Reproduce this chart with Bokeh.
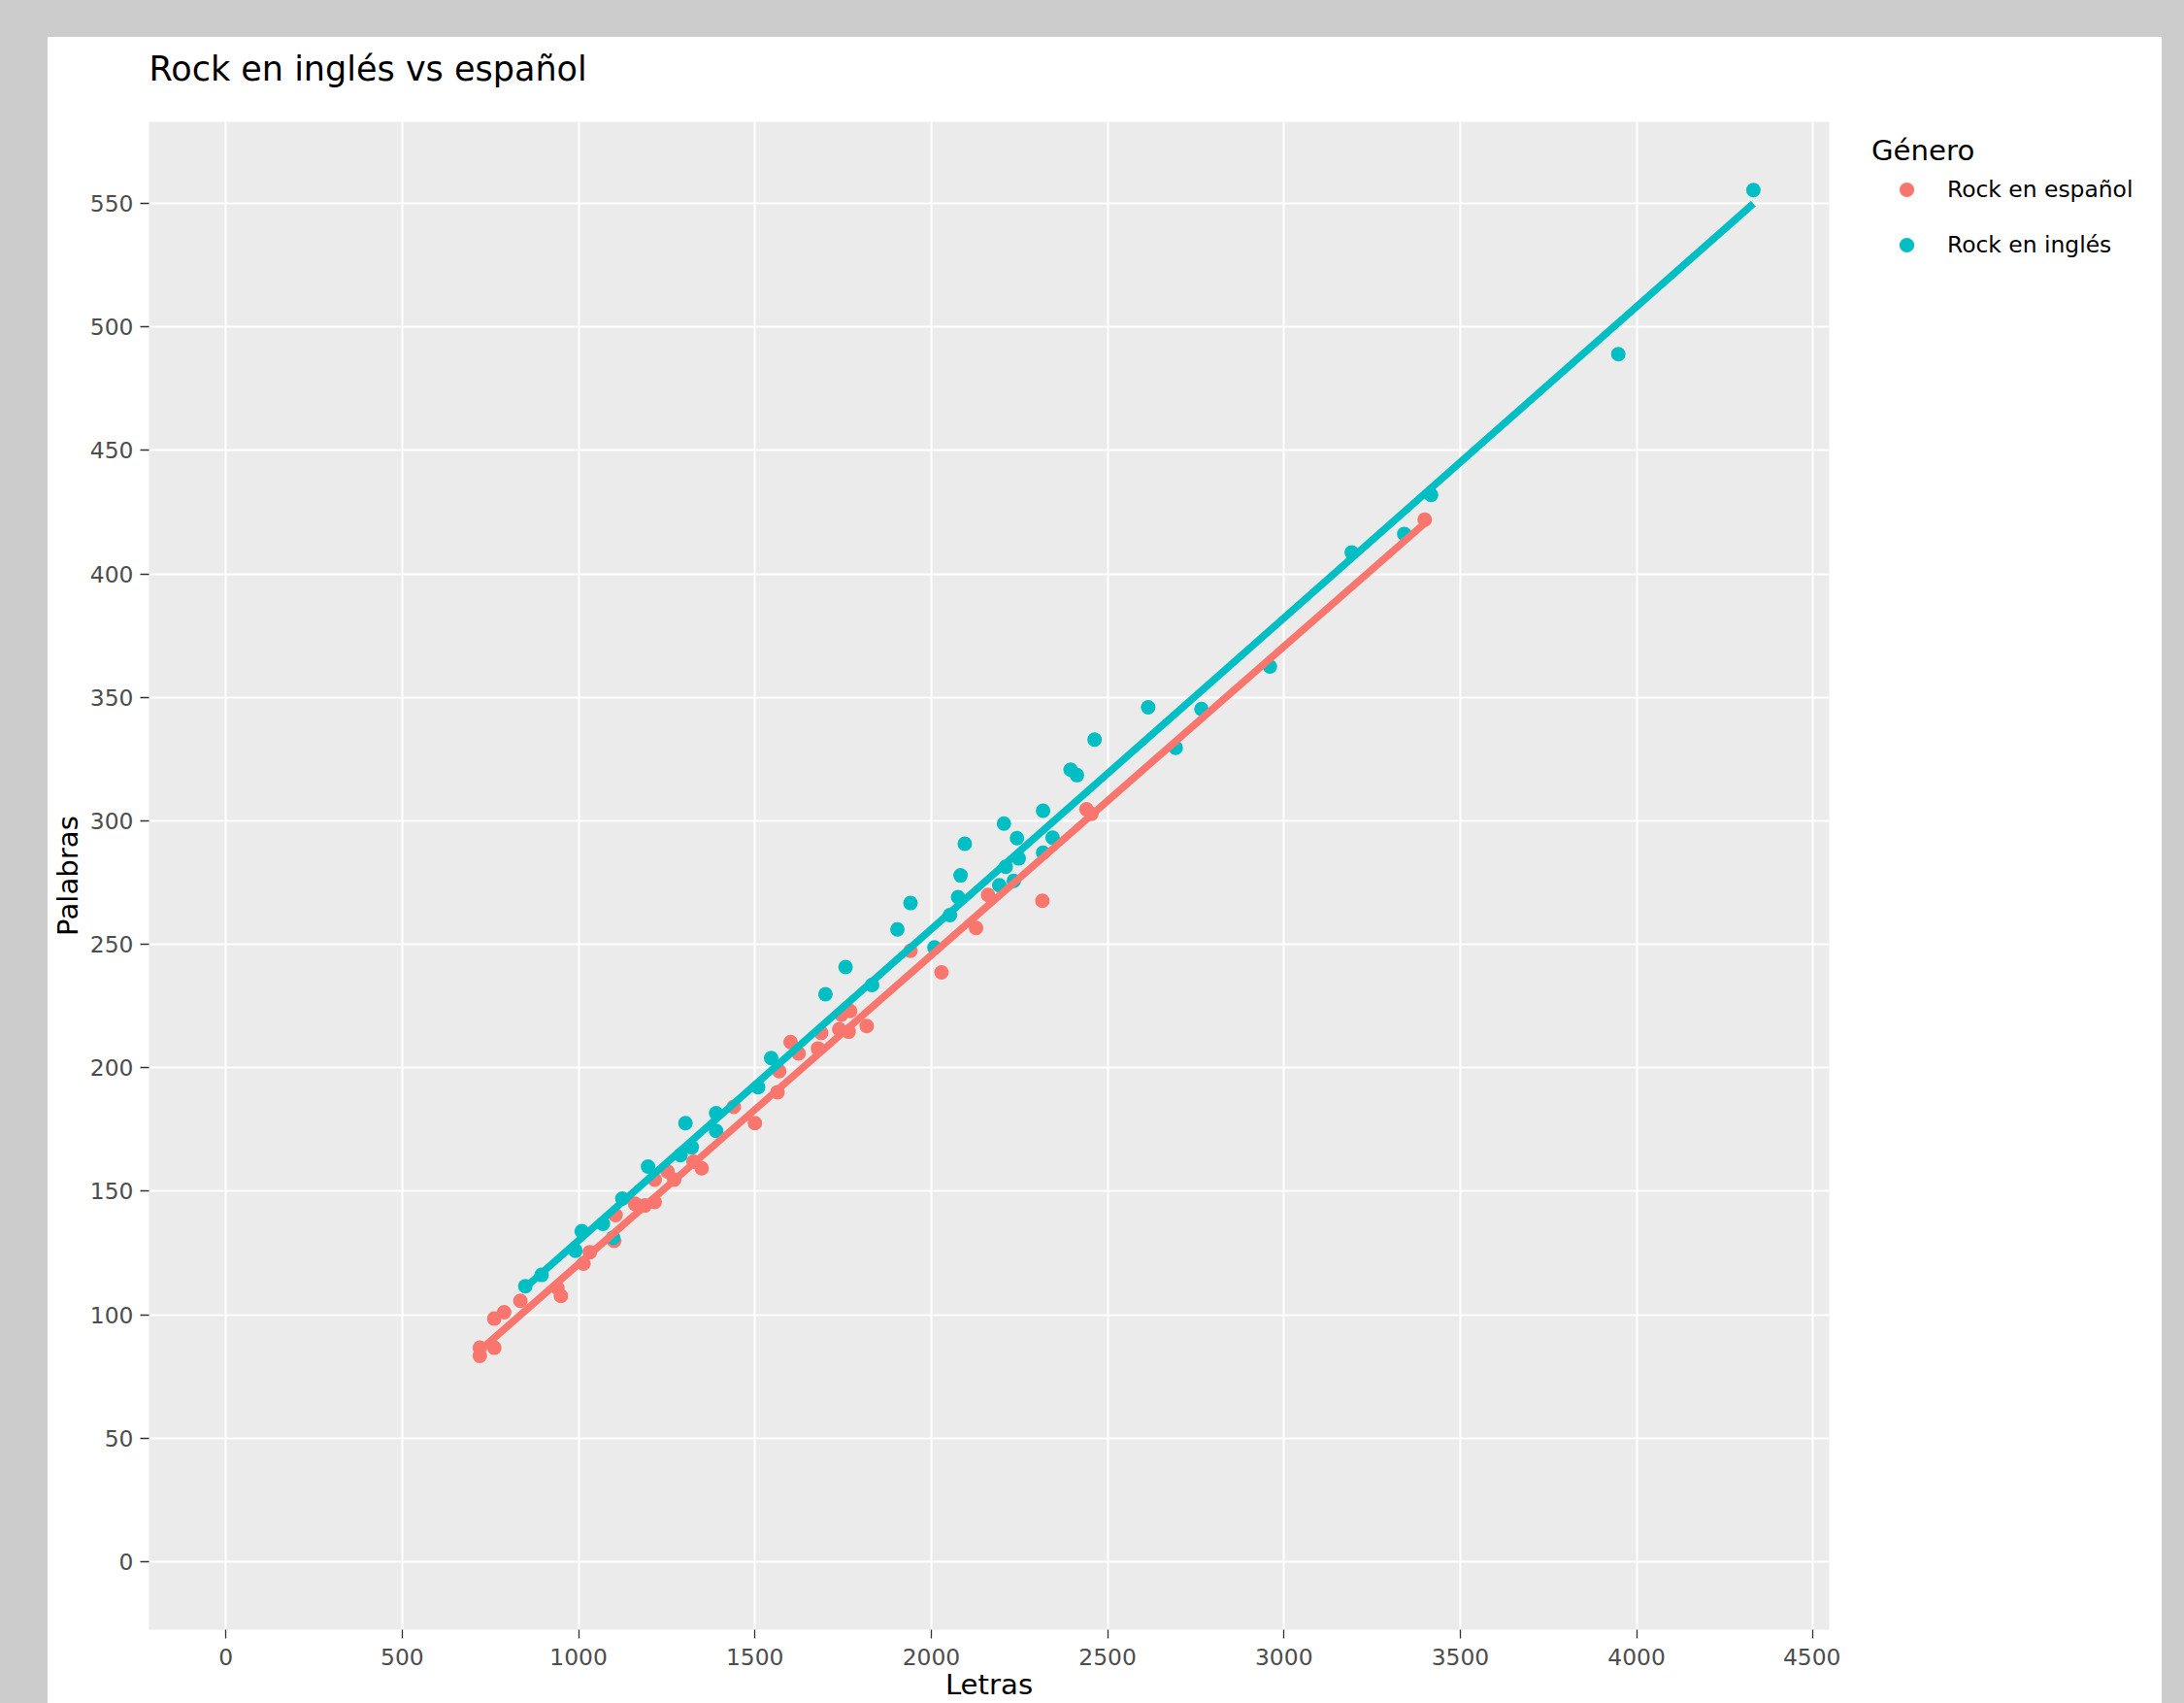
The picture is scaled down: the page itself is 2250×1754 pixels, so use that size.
from bokeh.plotting import figure
from bokeh.models import (Legend, LegendItem, FixedTicker, Range1d, Spacer,
                          GlobalInlineStyleSheet)
from bokeh.layouts import column, row
from bokeh.embed import file_html
from bokeh.resources import INLINE

# ---------------- data ----------------
title_text = "Rock en inglés vs español"
x_label = "Letras"
y_label = "Palabras"
legend_title = "Género"
series_names = ["Rock en español", "Rock en inglés"]
series_colors = ["#F8766D", "#00BFC4"]

esp_letras = [720, 720, 761, 761, 789, 835, 940, 950, 1014, 1032,
              1101, 1105, 1160, 1188, 1216, 1216, 1252, 1271, 1326, 1349,
              1440, 1500, 1564, 1569, 1601, 1624, 1679, 1688, 1739, 1745,
              1766, 1770, 1817, 1941, 2029, 2127, 2161, 2315, 2440, 2454,
              3399]
esp_palabras = [86.6, 83.3, 86.6, 98.4, 101.0, 105.6, 110.8, 107.6, 120.7, 125.3,
                129.9, 140.3, 144.9, 144.2, 145.6, 154.7, 158.0, 154.7, 161.9, 159.3,
                184.2, 177.6, 190.1, 198.6, 210.4, 205.8, 207.8, 214.1, 215.6, 221.5,
                214.6, 223.0, 216.9, 247.4, 238.6, 256.6, 270.0, 267.6, 304.7, 302.8,
                422.0]

ing_letras = [849, 895, 991, 1009, 1069, 1098, 1124, 1197, 1289, 1303,
              1321, 1390, 1390, 1509, 1546, 1700, 1757, 1832, 1904, 1941,
              2009, 2053, 2076, 2083, 2095, 2193, 2206, 2211, 2234, 2243,
              2248, 2317, 2317, 2344, 2395, 2413, 2463, 2615, 2693, 2766,
              2960, 3192, 3341, 3417, 3948, 4331]
ing_palabras = [111.5, 116.1, 125.9, 133.8, 136.8, 131.2, 147.0, 160.0, 164.6, 177.6,
                167.8, 181.6, 174.4, 192.1, 203.9, 229.8, 240.8, 233.5, 256.0, 266.7,
                248.7, 261.8, 269.1, 277.9, 290.7, 273.9, 298.9, 281.4, 275.7, 293.0,
                284.8, 287.1, 304.1, 293.2, 320.7, 318.5, 332.9, 346.0, 329.6, 345.3,
                362.5, 408.7, 416.2, 432.0, 489.0, 555.5]

# linear-trend lines (end points)
esp_fit_letras = [720, 3399]
esp_fit_palabras = [85.5, 420.5]
ing_fit_letras = [849, 4331]
ing_fit_palabras = [111.0, 550.0]

x_ticks = [0, 500, 1000, 1500, 2000, 2500, 3000, 3500, 4000, 4500]
y_ticks = [0, 50, 100, 150, 200, 250, 300, 350, 400, 450, 500, 550]

FONT = "DejaVu Sans"

# ---------------- title strip ----------------
pt = figure(width=2178, height=87, output_backend="svg", toolbar_location=None,
            x_axis_type=None, y_axis_type=None,
            min_border_left=104, min_border_right=0, min_border_top=52,
            min_border_bottom=0,
            background_fill_color="white", border_fill_color="white",
            outline_line_color=None)
pt.title.text = title_text
pt.title.text_font = FONT
pt.title.text_font_size = "35px"
pt.title.text_font_style = "normal"
pt.title.text_color = "black"
pt.title.align = "left"
pt.title.standoff = 0

# ---------------- main plot ----------------
p = figure(width=1847, height=1629, output_backend="svg", toolbar_location=None,
           x_range=Range1d(-218, 4546), y_range=Range1d(-27.6, 583.1),
           min_border_left=104, min_border_right=12, min_border_top=0,
           min_border_bottom=75,
           background_fill_color="#EBEBEB", border_fill_color="white",
           outline_line_color=None)
p.title.text = ""

for g in (p.xgrid, p.ygrid):
    g.grid_line_color = "white"
    g.grid_line_width = 2
    g.minor_grid_line_color = None

p.xaxis.ticker = FixedTicker(ticks=x_ticks)
p.yaxis.ticker = FixedTicker(ticks=y_ticks)
p.xaxis.axis_label = x_label
p.yaxis.axis_label = y_label
for ax in (p.xaxis, p.yaxis):
    ax.axis_line_color = None
    ax.major_tick_line_color = "#333333"
    ax.major_tick_line_width = 1.3
    ax.major_tick_out = 9
    ax.major_tick_in = 0
    ax.minor_tick_line_color = None
    ax.major_label_text_font = FONT
    ax.major_label_text_font_size = "23.4px"
    ax.major_label_text_color = "#4d4d4d"
    ax.axis_label_text_font = FONT
    ax.axis_label_text_font_size = "29.2px"
    ax.axis_label_text_font_style = "normal"
    ax.axis_label_text_color = "black"
p.xaxis.major_label_standoff = 10
p.xaxis.axis_label_standoff = 0
p.yaxis.major_label_standoff = 7
p.yaxis.axis_label_standoff = 3

r_esp = p.scatter(esp_letras, esp_palabras, size=15, fill_color=series_colors[0],
                  line_color=None)
r_ing = p.scatter(ing_letras, ing_palabras, size=15, fill_color=series_colors[1],
                  line_color=None)
p.line(esp_fit_letras, esp_fit_palabras, line_color=series_colors[0], line_width=7.5)
p.line(ing_fit_letras, ing_fit_palabras, line_color=series_colors[1], line_width=7.5)

# ---------------- legend strip ----------------
pl = figure(width=331, height=1629, output_backend="svg", toolbar_location=None,
            x_axis_type=None, y_axis_type=None,
            x_range=Range1d(0, 1), y_range=Range1d(0, 1),
            min_border_left=0, min_border_right=0, min_border_top=0,
            min_border_bottom=0,
            background_fill_color="white", border_fill_color="white",
            outline_line_color=None)
pl.title.text = ""
# legend keys only (no visible marks: NaN positions)
nan = float("nan")
k_esp = pl.scatter(x=[nan], y=[nan], size=15, fill_color=series_colors[0], line_color=None)
k_ing = pl.scatter(x=[nan], y=[nan], size=15, fill_color=series_colors[1], line_color=None)

legend = Legend(items=[LegendItem(label=series_names[0], renderers=[k_esp]),
                       LegendItem(label=series_names[1], renderers=[k_ing])],
                title=legend_title, location=(32, 1407),
                title_text_font=FONT, title_text_font_size="29.2px",
                title_text_font_style="normal", title_text_color="black",
                label_text_font=FONT, label_text_font_size="23.4px",
                label_text_color="black",
                padding=0, margin=0, spacing=19, glyph_width=72, glyph_height=38,
                label_height=38, label_standoff=6, title_standoff=4,
                background_fill_color="white", background_fill_alpha=1,
                border_line_color=None)
pl.add_layout(legend)

p.stylesheets = [GlobalInlineStyleSheet(
    css="html, body { background-color: #cccccc; margin: 0; padding: 0; overflow: hidden; }")]

inner = column(pt, row(p, pl), styles={"background-color": "white"})
page = column(Spacer(height=38), row(Spacer(width=49), inner))

open("out.html", "w").write(file_html(page, INLINE))
